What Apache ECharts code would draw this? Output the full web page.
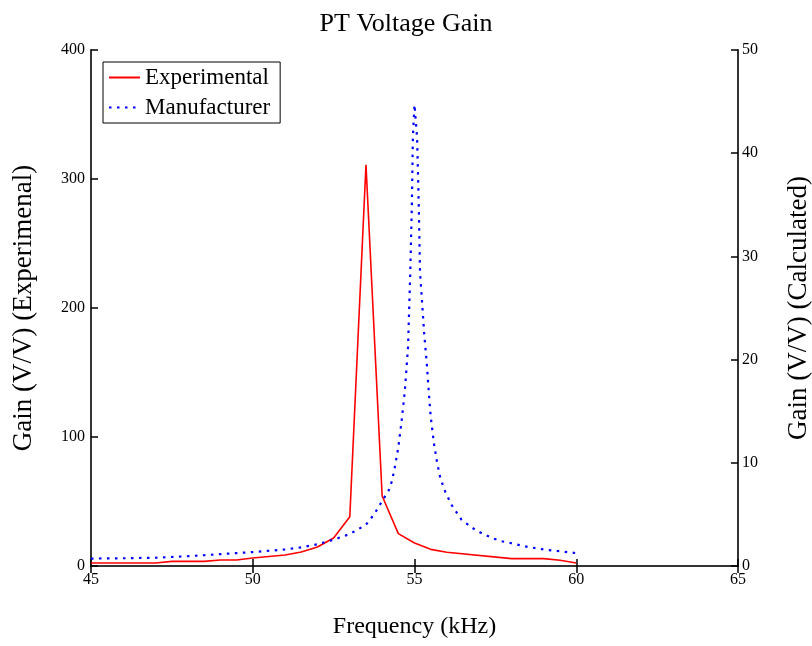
<!DOCTYPE html>
<html><head><meta charset="utf-8">
<script src="https://cdn.jsdelivr.net/npm/echarts@6/dist/echarts.min.js"></script>
<style>html,body{margin:0;padding:0;background:#fff}#c{width:812px;height:646px}</style>
</head><body><div id="c"></div>
<script>
var expFreq = [45, 47, 47.5, 48.5, 49, 49.5, 50, 51, 51.5, 52, 52.5, 53, 53.5, 54, 54.5, 55, 55.5, 56, 58, 59, 59.5, 60];
var expGain = [2.3, 2.3, 3.6, 3.6, 4.7, 4.7, 6.2, 8.5, 10.9, 14.7, 21.7, 38.2, 311, 54.3, 25.1, 17.8, 12.9, 10.6, 5.7, 5.7, 4.4, 2.3];
var manFreq = [45, 46, 47, 48, 49, 50, 51, 51.5, 52, 52.5, 53, 53.5, 53.75, 54, 54.2, 54.3, 54.4, 54.5, 54.6, 54.7, 54.8, 54.87, 54.92, 54.95, 55.0, 55.08, 55.13, 55.17, 55.3, 55.38, 55.45, 55.5, 55.6, 55.7, 55.8, 55.95, 56.15, 56.45, 56.7, 56.9, 57.2, 57.45, 57.7, 58, 58.5, 59, 59.5, 60];
var manGain = [0.72, 0.75, 0.8, 0.95, 1.15, 1.35, 1.6, 1.8, 2.1, 2.55, 3.1, 4.0, 5.0, 6.3, 7.3, 8.2, 9.7, 11.5, 14.0, 16.9, 21.2, 28.5, 35.2, 41.5, 44.7, 41.5, 35.2, 28.5, 22.5, 19.6, 16.5, 14.5, 11.9, 10.0, 8.5, 7.2, 5.9, 4.5, 3.9, 3.45, 3.0, 2.65, 2.4, 2.2, 1.85, 1.6, 1.42, 1.25];
var leftTicks = [0, 100, 200, 300, 400];
var rightTicks = [0, 10, 20, 30, 40, 50];

function pairs(xs, ys){ return xs.map(function(x,i){ return [x, ys[i]]; }); }
var F = 'Liberation Serif, Times New Roman, serif';
var chart = echarts.init(document.getElementById('c'));
chart.setOption({
  animation: false,
  title: {text: 'PT Voltage Gain', left: 'center', top: 6, textStyle: {fontFamily: F, fontSize: 26, fontWeight: 'normal', color: '#000'}},
  grid: {left: 91, right: 74, top: 50, bottom: 80, containLabel: false, outerBoundsMode: 'none'},
  legend: {
    left: 103, top: 62, orient: 'vertical', itemWidth: 31, itemHeight: 12, itemGap: 7,
    borderColor: '#000', borderWidth: 1, padding: [4, 10, 4, 5], borderRadius: 0,
    itemStyle: {opacity: 0},
    textStyle: {fontFamily: F, fontSize: 23, color: '#000'},
    data: ['Experimental', 'Manufacturer']
  },
  xAxis: [{
    type: 'value', min: 45, max: 65, interval: 5, position: 'bottom',
    name: 'Frequency (kHz)', nameLocation: 'middle', nameGap: 49,
    nameTextStyle: {fontFamily: F, fontSize: 24, color: '#000'},
    axisLine: {lineStyle: {color: '#333', width: 2}},
    axisTick: {inside: true, length: 7, lineStyle: {color: '#000', width: 1.5}},
    axisLabel: {fontFamily: F, fontSize: 16, color: '#000', margin: 6},
    splitLine: {show: false}
  }, {
    type: 'value', min: 45, max: 65, interval: 5, position: 'top',
    axisLine: {lineStyle: {color: '#333', width: 2}},
    axisTick: {inside: true, length: 7, lineStyle: {color: '#000', width: 1.5}},
    axisLabel: {show: false}, splitLine: {show: false}
  }],
  yAxis: [{
    type: 'value', min: 0, max: 400, interval: 100, position: 'left',
    name: 'Gain (V/V) (Experimenal)', nameLocation: 'middle', nameGap: 54, nameRotate: 90,
    nameTextStyle: {fontFamily: F, fontSize: 27, color: '#000'},
    axisLine: {show: true, lineStyle: {color: '#333', width: 2}},
    axisTick: {show: true, inside: true, length: 7, lineStyle: {color: '#000', width: 1.5}},
    axisLabel: {fontFamily: F, fontSize: 16, color: '#000', margin: 6,
      formatter: function(v){ return leftTicks.indexOf(v) >= 0 ? String(v) : ''; }},
    splitLine: {show: false}
  }, {
    type: 'value', min: 0, max: 50, interval: 10, position: 'right',
    name: 'Gain (V/V) (Calculated)', nameLocation: 'middle', nameGap: 47, nameRotate: 90,
    nameTextStyle: {fontFamily: F, fontSize: 27, color: '#000'},
    axisLine: {show: true, lineStyle: {color: '#333', width: 2}},
    axisTick: {show: true, inside: true, length: 7, lineStyle: {color: '#000', width: 1.5}},
    axisLabel: {fontFamily: F, fontSize: 16, color: '#000', margin: 4,
      formatter: function(v){ return rightTicks.indexOf(v) >= 0 ? String(v) : ''; }},
    splitLine: {show: false}
  }],
  series: [{
    name: 'Experimental', type: 'line', xAxisIndex: 0, yAxisIndex: 0,
    symbol: 'none', data: pairs(expFreq, expGain),
    lineStyle: {color: '#ff0000', width: 1.6}, itemStyle: {color: '#ff0000'}
  }, {
    name: 'Manufacturer', type: 'line', xAxisIndex: 0, yAxisIndex: 1,
    symbol: 'none', data: pairs(manFreq, manGain),
    lineStyle: {color: '#0000ff', width: 2.2, type: [2.5, 5.5]}, itemStyle: {color: '#0000ff'}
  }]
});
</script></body></html>
